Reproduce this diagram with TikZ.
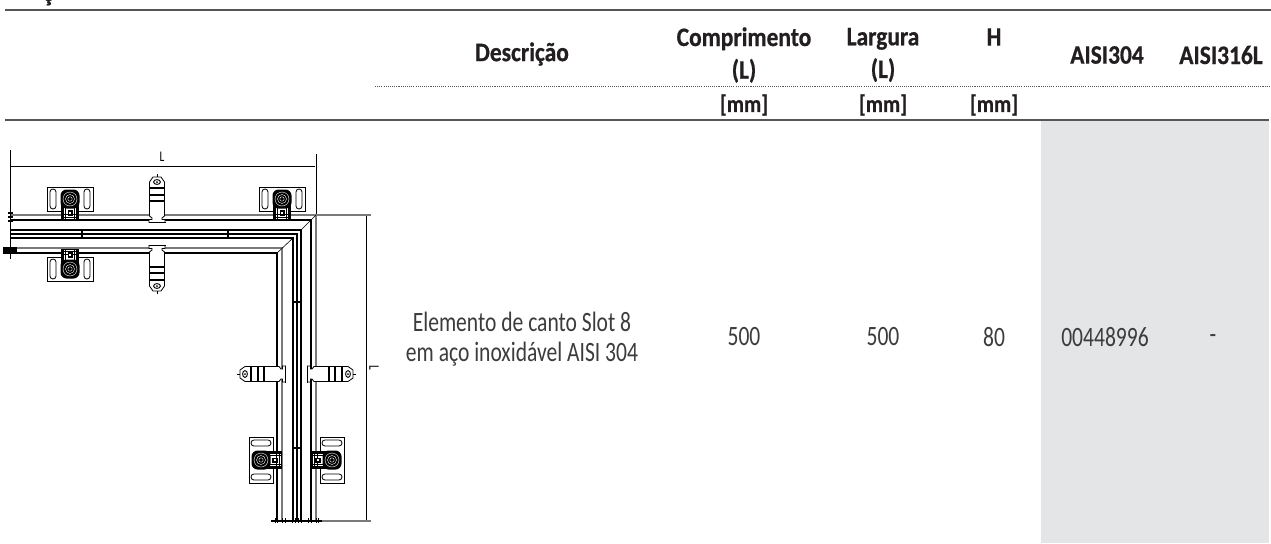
\documentclass[tikz,border=0pt]{standalone}
\usepackage{fontspec}
\setmainfont[FakeStretch=0.77]{Carlito}
\newfontfamily\hdfont[FakeStretch=0.88,FakeBold=0.6]{Carlito}
\definecolor{ink}{HTML}{3C3C3C}
\definecolor{headink}{HTML}{231F20}
\definecolor{rulec}{HTML}{555555}
\definecolor{bandc}{HTML}{E4E5E7}
\definecolor{greyline}{HTML}{7A7A7A}
\tikzset{
  rulel/.style={draw=rulec,line width=1.4pt},
  dotl/.style={draw=rulec,line width=.9pt,dash pattern=on .8pt off .8pt},
  head/.style={font=\hdfont\bfseries\fontsize{20}{24.5}\selectfont,text=headink,align=center,inner sep=0pt},
  unit/.style={font=\hdfont\bfseries\fontsize{18}{20}\selectfont,text=headink,inner sep=0pt},
  cell/.style={font=\fontsize{21}{23}\selectfont,text=ink,align=center,inner sep=0pt},
  dimt/.style={font=\fontsize{11}{12}\selectfont,text=black,inner sep=0pt},
  thn/.style={draw=black,line width=.45pt},
  med/.style={draw=black,line width=.9pt},
  thk/.style={draw=black,line width=2pt},
  gry/.style={draw=greyline,line width=1.2pt},
  swapr/.style={x={(0pt,-.75pt)},y={(.75pt,0pt)}},
  swapl/.style={x={(0pt,-.75pt)},y={(-.75pt,0pt)}},
  pics/plate/.style={code={
    \draw[thn,line width=.6pt,fill=white] (-23,-12) rectangle (23,12);
    \draw[thn,line width=.6pt,rounded corners=2.2pt] (-20,-10) rectangle (-14,10);
    \draw[thn,line width=.6pt,rounded corners=2.2pt] (14,-10) rectangle (20,10);
    \draw[thn,line width=.7pt,fill=white] (-8.5,5) rectangle (8.5,20);
    \draw[med] (-7,5) -- (-7,20) (7,5) -- (7,20);
    \draw[thn] (-4.5,8) -- (-4.5,20) (4.5,8) -- (4.5,20) (-8.5,15) -- (8.5,15) (-8.5,18) -- (8.5,18);
    \fill[black] (-2.5,11) rectangle (2.5,17);
    \fill[white] (-1,13) rectangle (1,15);
    \fill[black,rounded corners=4.5pt] (-9.5,-9.5) rectangle (9.5,9.5);
    \draw[white,line width=.3pt] (0,0) circle[radius=7];
    \draw[white,line width=.3pt] (0,0) circle[radius=4.5];
    \draw[white,line width=.25pt] (0,0) circle[radius=2.2];
  }},
  pics/clipper/.style={code={
    \draw[med,fill=white,line width=.6pt] (-7.5,-7) -- (-7.5,-41) -- (-4,-46) -- (4,-46) -- (7.5,-41) -- (7.5,-7) -- (5,-5) -- (5,-3.5) -- (8,-3.5) -- (8,-.5) -- (-8,-.5) -- (-8,-3.5) -- (-5,-3.5) -- (-5,-5) -- cycle;
    \draw[med,line width=.7pt] (0,-41) ellipse[x radius=3.4,y radius=2.4];
    \fill (0,-41) circle[radius=1];
    \draw[med] (-7.5,-35) -- (7.5,-35) (-7.5,-28) -- (7.5,-28) (-7.5,-22) -- (7.5,-22);
    \draw[thn] (-8.5,-.5) -- (8.5,-.5) (0,-49) -- (0,-46);
  }}
}
\begin{document}
\begin{tikzpicture}[x=.75pt,y=-.75pt]
\useasboundingbox (0,0) rectangle (1271,543);
\fill[white] (0,0) rectangle (1271,543);
% table
\fill[bandc] (1041,121) rectangle (1269,543);
\draw[rulel] (5,10) -- (1271,10);
\draw[rulel] (5,120) -- (1269,120);
\draw[dotl] (375,86.5) -- (1271,86.5);
\node[head,anchor=base] (cut) at (48,1) {ç};
\node[head] (h1) at (522,54) {Descrição};
\node[head] (h2) at (744,55) {Comprimento\\(L)};
\node[head] (h3) at (883,55) {Largura\\(L)};
\node[head] (h4) at (994,37) {H};
\node[head] (h5) at (1107,55) {AISI304};
\node[head] (h6) at (1221,55) {AISI316L};
\node[unit] (u1) at (744,105) {[mm]};
\node[unit] (u2) at (883,105) {[mm]};
\node[unit] (u3) at (994,105) {[mm]};
\node[cell] (c1) at (522,339) {Elemento de canto Slot 8\\em aço inoxidável AISI 304};
\node[cell] (c2) at (744,337) {500};
\node[cell] (c3) at (883,337) {500};
\node[cell] (c4) at (994,337) {80};
\node[cell] (c5) at (1105,337) {00448996};
\node[cell] (c6) at (1213,339) {-};
% dimensions
\draw[thn,line width=.6pt] (10,150) -- (10,259);
\draw[thn,line width=.6pt] (10,166) -- (315,166);
\draw[thn,line width=.6pt] (316,154) -- (316,215);
\node[dimt] (dl1) at (162,157) {L};
\draw[thn,line width=.6pt] (366,215) -- (366,521);
\node[dimt,rotate=-90] (dl2) at (374,368) {L};
\draw[gry] (316,215) -- (371,215);
\draw[gry] (322,521) -- (371,521);
% profile
\draw[gry] (10,215) -- (316,215) -- (316,521);
\draw[med] (10,220) -- (311,220) -- (311,521);
\draw[thk] (10,230) -- (301,230) -- (301,521);
\draw[thn,line width=.8pt] (10,234) -- (297,234) -- (297,521);
\draw[thk] (10,238) -- (293,238) -- (293,521);
\draw[gry] (10,248) -- (282,248) -- (282,521);
\draw[med] (10,253) -- (277,253) -- (277,521);
\draw[thn] (316,215) -- (301,230) (293,238) -- (277,253);
% joints
\foreach \p in {82,228} \draw[med] (\p,229) -- (\p,239);
\foreach \p in {302,448} \draw[med] (292,\p) -- (302,\p);
% left end
\draw[med,line width=1.4pt] (10.5,209) -- (10.5,259);
\fill[black] (3,247) rectangle (17,254);
\draw[med] (8,213) -- (13,213) (8,217) -- (13,217) (8,221) -- (13,221);
% bottom end
\draw[med] (271,521) -- (322,521);
\foreach \p in {275,277,282,285,292,295,298,301,308,311,316,318} \draw[thn] (\p,518) -- (\p,523);
% fittings
\pic at (70,199) {plate};
\pic[yscale=-1] at (70,269) {plate};
\pic at (282,199) {plate};
\begin{scope}[shift={(261,460)},swapr] \pic at (0,0) {plate}; \end{scope}
\begin{scope}[shift={(332,460)},swapl] \pic at (0,0) {plate}; \end{scope}
\pic at (157,223) {clipper};
\pic[yscale=-1] at (157,245) {clipper};
\begin{scope}[shift={(286,374)},swapr] \pic at (0,0) {clipper}; \end{scope}
\begin{scope}[shift={(307,374)},swapl] \pic at (0,0) {clipper}; \end{scope}
\end{tikzpicture}
\end{document}
